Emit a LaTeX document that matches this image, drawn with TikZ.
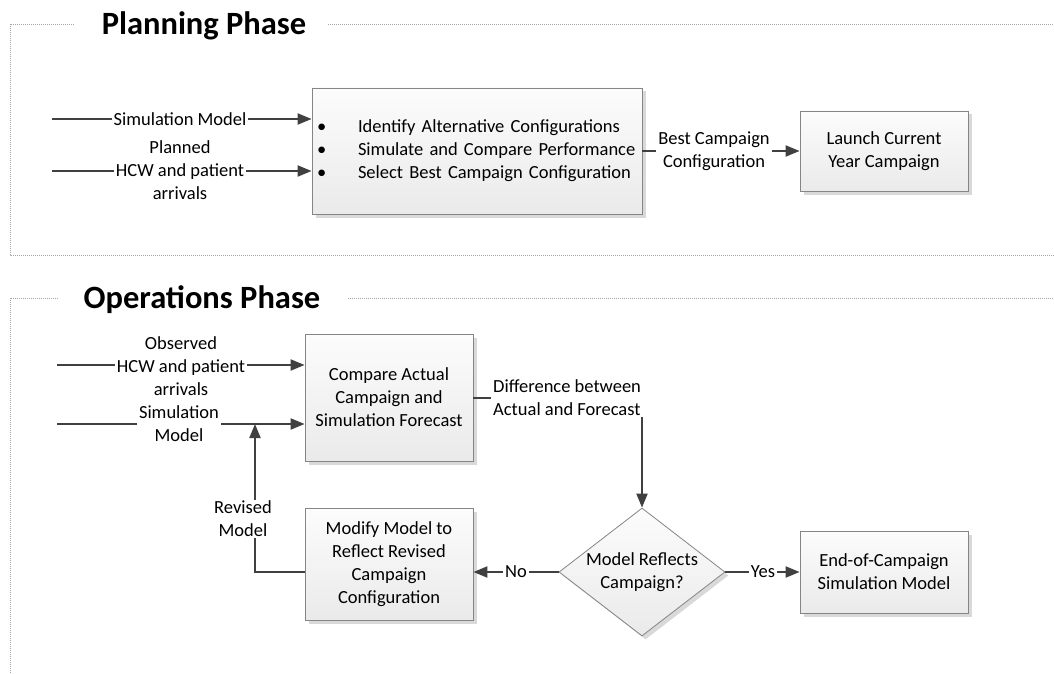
\documentclass[tikz,border=0pt]{standalone}
\usepackage{fontspec}
\setmainfont{Carlito}
\usetikzlibrary{arrows.meta,shapes.geometric,shadows}
\definecolor{arrowc}{HTML}{404040}
\definecolor{boxline}{HTML}{858585}
\definecolor{boxtop}{HTML}{FCFCFC}
\definecolor{boxbot}{HTML}{EAEAEA}
\definecolor{framec}{HTML}{A6A6A6}
\definecolor{shadowc}{HTML}{D9D9D9}
\begin{document}
\begin{tikzpicture}[x=1pt,y=-1pt,
  font=\fontsize{18.5}{23}\selectfont,
  frameline/.style={draw=framec, line width=0.9pt, dash pattern=on 1pt off 1pt},
  titletext/.style={font=\fontsize{32.5}{38}\selectfont\bfseries, anchor=base},
  boxstyle/.style={draw=boxline, line width=0.8pt, top color=boxtop, bottom color=boxbot,
    drop shadow={shadow xshift=3.5pt, shadow yshift=-3.5pt, fill=shadowc, opacity=1},
    align=center, inner sep=0pt},
  arr/.style={draw=arrowc, line width=2pt, -{Triangle[length=14pt,width=11pt]}},
  lbl/.style={fill=white, inner xsep=2pt, inner ysep=1pt, align=center}]
\useasboundingbox (0,0) rectangle (1054,674);

% frames
\draw[frameline] (74,24) -- (10,24) -- (10,255) -- (1054,255);
\draw[frameline] (328,24) -- (1054,24);
\draw[frameline] (58,298) -- (10,298) -- (10,674);
\draw[frameline] (348,298) -- (1054,298);
\node[titletext] (t1) at (204,34.5) {Planning Phase};
\node[titletext] (t2) at (202,308.5) {Operations Phase};

% planning phase
\node[boxstyle, minimum width=330pt, minimum height=126pt, text width=330pt, align=left] (b1) at (477,151)
  {\begin{tabular}{@{\hspace{5pt}}p{41pt}@{}l@{}}
   \textbullet & Identify Alternative Configurations\\
   \textbullet & Simulate and Compare Performance\\
   \textbullet & Select Best Campaign Configuration
   \end{tabular}};
\node[boxstyle, minimum width=168pt, minimum height=80pt] (b2) at (884,151)
  {Launch Current\\Year Campaign};

\coordinate (p1) at (52,119);
\coordinate (p2) at (52,171);
\draw[arr] (p1) -- (p1 -| b1.west);
\draw[arr] (p2) -- (p2 -| b1.west);
\draw[arr] (b1.east) -- (b2.west);
\node[lbl] (l1) at (180,119) {Simulation Model};
\node[lbl] (l2) at (180,170) {Planned\\HCW and patient\\arrivals};
\node[lbl] (l3) at (714,151) {Best Campaign\\Configuration};

% operations phase
\node[boxstyle, minimum width=168pt, minimum height=127pt] (b3) at (389,397.5)
  {Compare Actual\\Campaign and\\Simulation Forecast};
\node[boxstyle, minimum width=168pt, minimum height=112pt] (b4) at (389,564)
  {Modify Model to\\Reflect Revised\\Campaign\\Configuration};
\node[boxstyle, diamond, aspect=1.3, minimum width=166pt, minimum height=128pt] (d) at (642,572)
  {\makebox[0pt]{\begin{tabular}{@{}c@{}}Model Reflects\\Campaign?\end{tabular}}};
\node[boxstyle, minimum width=168pt, minimum height=82pt] (b5) at (884,572)
  {End-of-Campaign\\Simulation Model};

\coordinate (o1) at (57,365);
\coordinate (o2) at (57,424);
\coordinate (jn) at (255,424);
\draw[arr] (o1) -- (o1 -| b3.west);
\draw[arr] (o2) -- (o2 -| b3.west);
\draw[arr] (b3.east) -| (d.north);
\draw[arr] (d.west) -- (d.west -| b4.east);
\draw[arr] (d.east) -- (b5.west);
\draw[arr] (d.west -| b4.west) -| (jn);

\node[lbl] (l4) at (181,366) {Observed\\HCW and patient\\arrivals};
\node[lbl] (l5) at (179,424) {Simulation\\Model};
\node[lbl] (l6) at (243,519) {Revised\\Model};
\node[lbl, anchor=west, align=left] (l7) at (491,398) {Difference between\\Actual and Forecast};
\node[lbl] (l8) at (516,572) {No};
\node[lbl] (l9) at (763,572) {Yes};
\end{tikzpicture}
\end{document}
